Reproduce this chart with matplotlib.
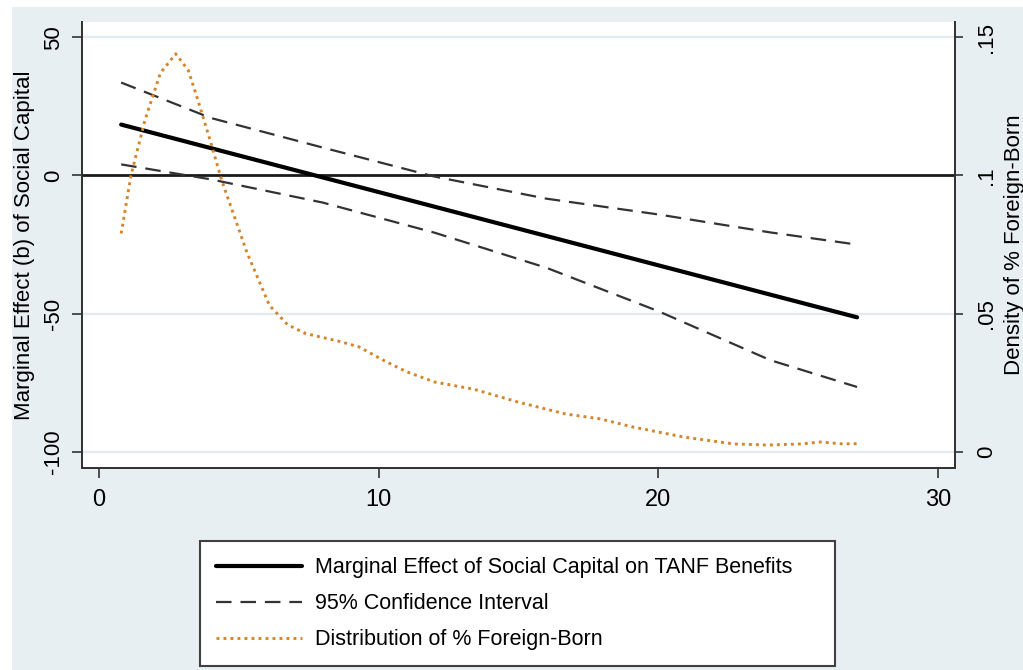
import matplotlib
matplotlib.use("Agg")
import matplotlib.pyplot as plt
from matplotlib.patches import Rectangle

plt.rcParams['font.family'] = ['Liberation Sans', 'DejaVu Sans']
plt.rcParams['axes.unicode_minus'] = False

# Marginal effect and 95% CI (left axis)
x_grid = [0.8, 4, 8, 12, 16, 20, 24, 27.1]
me = [18.4, 9.9, -0.7, -11.3, -21.9, -32.5, -43.1, -51.3]
ci_upper = [33.6, 20.8, 10.1, -0.4, -8.4, -14.1, -20.6, -25.0]
ci_lower = [4.0, -1.4, -9.8, -20.7, -33.4, -49.1, -66.8, -76.5]

# Kernel density of % foreign-born (right axis)
dens_x = [0.8, 1.15, 1.65, 2.2, 2.75, 3.2, 3.55, 4.0, 4.4, 5.3, 6.1, 6.75, 7.4,
          8.6, 9.3, 10.2, 11.0, 12.0, 13.4, 15.0, 16.7, 17.9, 19.1, 20.9, 22.7,
          23.9, 25.1, 25.8, 26.6, 27.1]
dens_y = [0.079, 0.100, 0.120, 0.137, 0.144, 0.138, 0.127, 0.112, 0.098, 0.072,
          0.053, 0.046, 0.0428, 0.040, 0.038, 0.033, 0.029, 0.0253, 0.0227, 0.018,
          0.0137, 0.012, 0.009, 0.0054, 0.0029, 0.0025, 0.0029, 0.0036, 0.0029, 0.003]

left_ticks = [-100, -50, 0, 50]
right_ticks = [0, 0.05, 0.1, 0.15]
right_labels = ['0', '.05', '.1', '.15']
x_ticks = [0, 10, 20, 30]

bg = '#e8eff2'
orange = '#d4862c'

fig = plt.figure(figsize=(10.23, 6.7), dpi=100)
fig.patch.set_facecolor('white')
fig.patches.append(Rectangle((12 / 1023, 0), 1, 1 - 7 / 670, transform=fig.transFigure,
                             facecolor=bg, edgecolor='none', zorder=-10))

ax = fig.add_axes([82 / 1023, 1 - 468 / 670, (955 - 82) / 1023, (468 - 22) / 670])
ax.set_facecolor('white')
ax.set_xlim(-0.6, 30.6)
ax.set_ylim(-105.8, 55.5)

for t in left_ticks:
    if t != 0:
        ax.axhline(t, color='#e2ebef', lw=1.6, zorder=0)
ax.axhline(0, color='#1a1a1a', lw=2.0, zorder=2)

ax.plot(x_grid, me, color='black', lw=3.0, solid_capstyle='round', zorder=4,
        label='Marginal Effect of Social Capital on TANF Benefits')
ax.plot(x_grid, ci_upper, color='#333333', lw=1.6, dashes=(7, 4), zorder=3,
        label='95% Confidence Interval')
ax.plot(x_grid, ci_lower, color='#333333', lw=1.6, dashes=(7, 4), zorder=3)

ax2 = ax.twinx()
ax2.set_ylim((-105.8 + 100) / 1000, (55.5 + 100) / 1000)
ax2.plot(dens_x, dens_y, color=orange, lw=2.1, linestyle=(0, (1, 1.4)),
         label='Distribution of % Foreign-Born')

ax.set_xticks(x_ticks)
ax.set_yticks(left_ticks)
ax2.set_yticks(right_ticks)
ax2.set_yticklabels(right_labels)

for a in (ax, ax2):
    a.spines['top'].set_visible(False)
    for s in ('left', 'right', 'bottom'):
        a.spines[s].set_color('#333333')
        a.spines[s].set_linewidth(1.3)

ax.tick_params(axis='x', direction='out', length=7, width=1.2, pad=8,
               labelsize=17, color='#333333')
ax.tick_params(axis='y', direction='out', length=7, width=1.2, pad=6,
               labelsize=16, labelrotation=90, color='#333333')
ax2.tick_params(axis='y', direction='out', length=6, width=1.2, pad=9,
                labelsize=16, labelrotation=90, color='#333333')
for lab in ax.get_yticklabels():
    lab.set_va('center')
for lab in ax2.get_yticklabels():
    lab.set_va('center')

ax.set_ylabel('Marginal Effect (b) of Social Capital', fontsize=16, labelpad=6)
ax2.set_ylabel('Density of % Foreign-Born', fontsize=16, labelpad=5)

h1, l1 = ax.get_legend_handles_labels()
h2, l2 = ax2.get_legend_handles_labels()
leg = fig.legend(h1 + h2, l1 + l2, loc='upper left',
                 bbox_to_anchor=(200 / 1023, 1 - 541 / 670, 635 / 1023, 0),
                 mode='expand', fontsize=15.5, handlelength=4.0, handletextpad=0.6,
                 labelspacing=0.7, borderpad=0.75, borderaxespad=0, fancybox=False,
                 framealpha=1, edgecolor='#404040')
leg.get_frame().set_linewidth(1.5)

fig.savefig('out.png', dpi=100)
